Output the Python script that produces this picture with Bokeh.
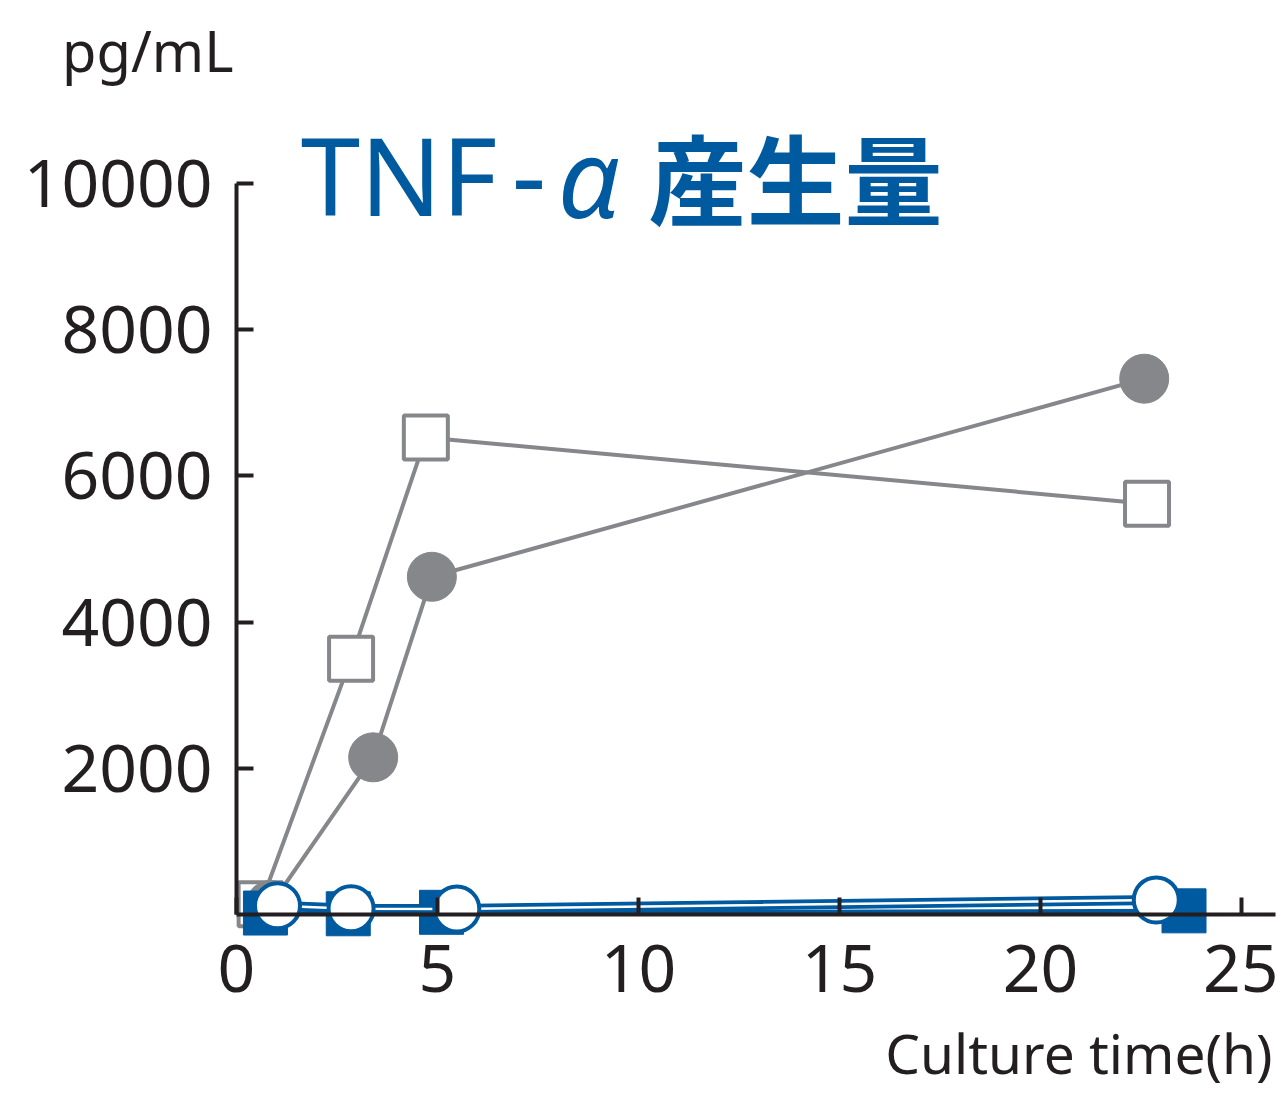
from bokeh.plotting import figure
from bokeh.models import Range1d, FixedTicker, Label
from bokeh.embed import file_html
from bokeh.resources import INLINE

# data
gray_circle_x = [0.85, 3.4, 4.86, 22.58]
gray_circle_y = [130, 2150, 4620, 7330]
gray_square_x = [0.6, 2.85, 4.71, 22.65]
gray_square_y = [140, 3500, 6525, 5620]
blue_square_x = [0.72, 2.78, 5.1, 23.57]
blue_square_y = [20, 10, 30, 50]
blue_circle_x = [1.02, 2.85, 5.48, 22.88]
blue_circle_y = [120, 80, 75, 200]

x_ticks = [0, 5, 10, 15, 20, 25]
y_ticks = [2000, 4000, 6000, 8000, 10000]

GRAY = "#86878a"
BLUE = "#005a9f"
INK = "#231f20"

W, H = 1278, 1093
PX_X = 40.2      # pixels per hour
PX_Y = 0.0731    # pixels per pg/mL
X0, Y0 = 236, 914  # pixel position of the origin

p = figure(width=W, height=H, output_backend="svg", toolbar_location=None,
           x_range=Range1d(-X0 / PX_X, (W - X0) / PX_X),
           y_range=Range1d(-(H - Y0) / PX_Y, Y0 / PX_Y),
           min_border_left=0, min_border_right=0, min_border_top=0, min_border_bottom=0)
p.outline_line_color = None
p.grid.visible = False
p.background_fill_color = "white"

# axes
for ax in (p.xaxis[0], p.yaxis[0]):
    ax.axis_line_color = INK
    ax.axis_line_width = 4
    ax.major_tick_line_color = INK
    ax.major_tick_line_width = 4
    ax.major_tick_in = 17
    ax.major_tick_out = 0
    ax.minor_tick_line_color = None
    ax.major_label_text_font = "Noto Sans"
    ax.major_label_text_font_size = "66px"
    ax.major_label_text_color = INK
    ax.fixed_location = 0

p.xaxis[0].ticker = FixedTicker(ticks=x_ticks)
p.xaxis[0].bounds = (0, 25.85)
p.xaxis[0].major_label_standoff = 30
p.yaxis[0].ticker = FixedTicker(ticks=y_ticks)
p.yaxis[0].bounds = (0, 10000)
p.yaxis[0].major_label_standoff = 24

# gray series
p.line(gray_square_x, gray_square_y, line_color=GRAY, line_width=4)
p.line(gray_circle_x, gray_circle_y, line_color=GRAY, line_width=4)
p.scatter(gray_square_x, gray_square_y, marker="square", size=44, fill_color="white",
          line_color=GRAY, line_width=4)
p.scatter(gray_circle_x, gray_circle_y, marker="circle", size=49, fill_color=GRAY,
          line_color=GRAY, line_width=1)

# blue series
p.line(blue_square_x, blue_square_y, line_color=BLUE, line_width=4)
p.scatter(blue_square_x, blue_square_y, marker="square", size=44, fill_color=BLUE,
          line_color=BLUE, line_width=1)
p.line(blue_circle_x, blue_circle_y, line_color=BLUE, line_width=10)
p.line(blue_circle_x, blue_circle_y, line_color="white", line_width=2.5)
p.scatter(blue_circle_x, blue_circle_y, marker="circle", size=45, fill_color="white",
          line_color=BLUE, line_width=4)

# texts
p.add_layout(Label(x=-0.075, y=11820, text="pg/mL", text_align="right",
                   text_baseline="alphabetic", text_font="Noto Sans",
                   text_font_size="56px", text_color=INK))
p.add_layout(Label(x=1.6, y=10123, text="TNF", text_align="left",
                   text_baseline="alphabetic", text_font="Noto Sans",
                   text_font_size="107px", text_color=BLUE))
p.add_layout(Label(x=6.85, y=10123, text="-", text_align="left",
                   text_baseline="alphabetic", text_font="Noto Sans",
                   text_font_size="107px", text_color=BLUE))
p.add_layout(Label(x=8.0, y=10123, text="α", text_align="left",
                   text_baseline="alphabetic", text_font="Noto Sans",
                   text_font_style="italic",
                   text_font_size="110px", text_color=BLUE))
p.add_layout(Label(x=10.25, y=10123, text="産生量", text_align="left",
                   text_baseline="alphabetic", text_font="Noto Sans CJK JP",
                   text_font_style="bold",
                   text_font_size="98px", text_color=BLUE))
p.add_layout(Label(x=25.77, y=-1888, text="Culture time(h)", text_align="right",
                   text_baseline="alphabetic", text_font="Noto Sans",
                   text_font_size="55px", text_color=INK))

open("out.html", "w").write(file_html(p, INLINE))
